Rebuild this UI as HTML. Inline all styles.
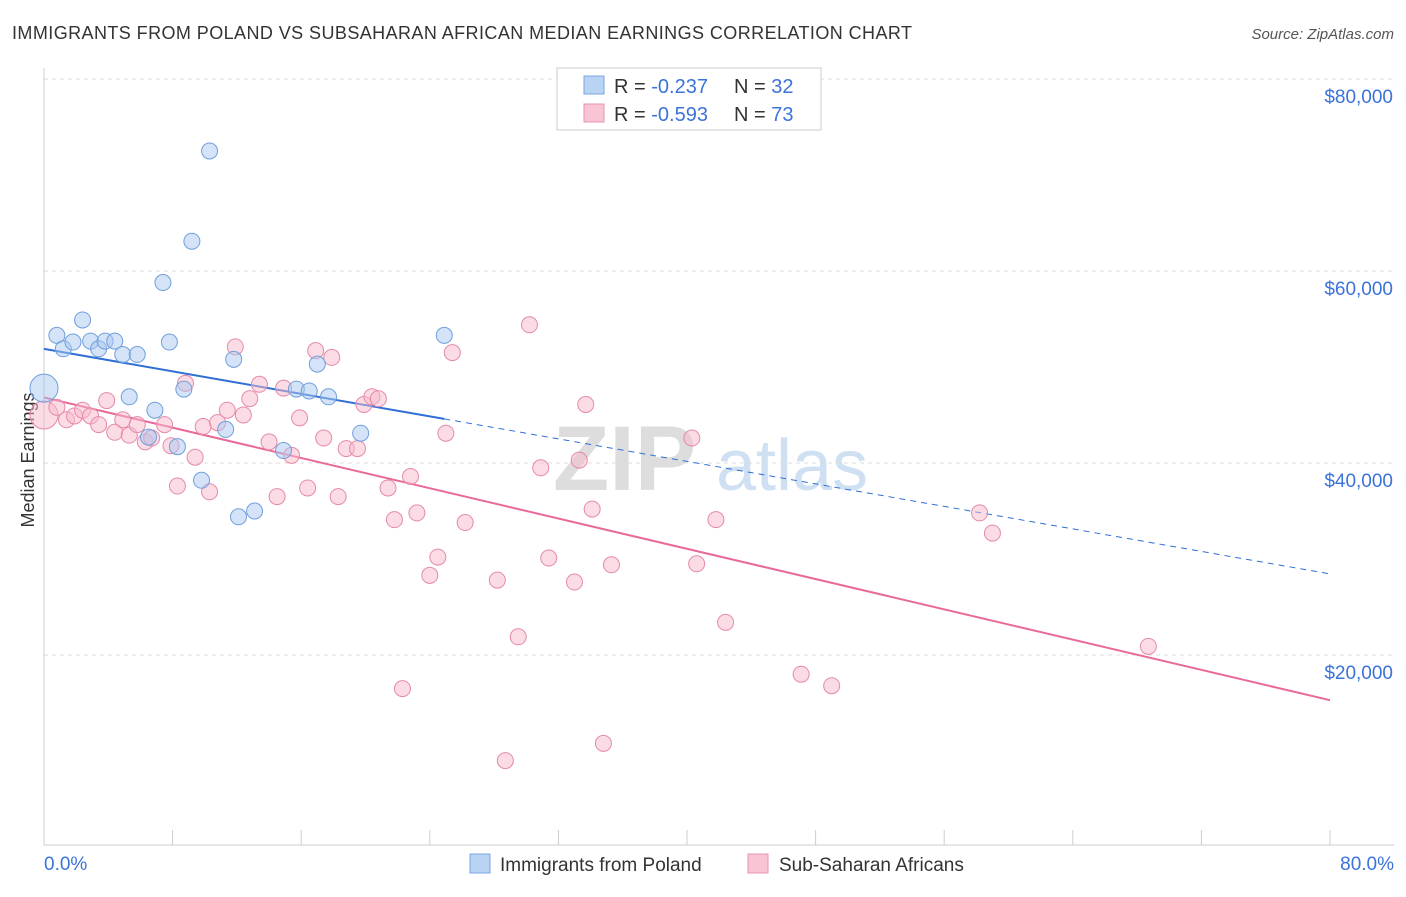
<!DOCTYPE html>
<html><head><meta charset="utf-8"><style>
body{margin:0;background:#fff;width:1406px;height:892px;overflow:hidden;font-family:"Liberation Sans",sans-serif}
svg text{font-family:"Liberation Sans",sans-serif}
</style></head><body>
<svg id="c" width="1406" height="892">
<text x="12" y="39" font-size="18" fill="#333" textLength="900">IMMIGRANTS FROM POLAND VS SUBSAHARAN AFRICAN MEDIAN EARNINGS CORRELATION CHART</text>
<text x="1394" y="39" font-size="15" fill="#555" text-anchor="end" font-style="italic">Source: ZipAtlas.com</text>
<text x="34" y="460" font-size="18" fill="#333" text-anchor="middle" transform="rotate(-90 34 460)">Median Earnings</text>
<g><text x="553" y="490" font-size="92" fill="#ddd" font-family="Liberation Serif" font-weight="bold">ZIP</text><text x="716" y="490" font-size="72" fill="#cfe0f3">atlas</text></g>
<g id="grid"></g><g id="lines"></g><g id="pts"></g>
<g>
<rect x="557" y="68" width="264" height="62" fill="#fff" stroke="#ccc"/>
<rect x="584" y="76" width="20" height="18" fill="#b9d3f3" stroke="#7aa6e0"/>
<rect x="584" y="104" width="20" height="18" fill="#f9c5d5" stroke="#e994b0"/>
<text x="614" y="93" font-size="20" fill="#333">R = <tspan fill="#3b73d9">-0.237</tspan></text>
<text x="734" y="93" font-size="20" fill="#333">N = <tspan fill="#3b73d9">32</tspan></text>
<text x="614" y="121" font-size="20" fill="#333">R = <tspan fill="#3b73d9">-0.593</tspan></text>
<text x="734" y="121" font-size="20" fill="#333">N = <tspan fill="#3b73d9">73</tspan></text>
</g>
<g>
<rect x="470" y="854" width="20" height="19" fill="#b9d3f3" stroke="#7aa6e0"/>
<text x="500" y="871" font-size="19" fill="#333">Immigrants from Poland</text>
<rect x="748" y="854" width="20" height="19" fill="#f9c5d5" stroke="#e994b0"/>
<text x="779" y="871" font-size="19" fill="#333">Sub-Saharan Africans</text>
</g>
</svg>
<script>
const yTicks=[20000,40000,60000,80000];
const yTickLabels=["$20,000","$40,000","$60,000","$80,000"];
const xTickLabels=["0.0%","80.0%"];
const polandX=[0,0.8,1.2,1.8,2.4,2.9,3.4,3.8,4.4,4.9,5.8,5.3,6.9,6.5,7.4,7.8,8.3,8.7,9.2,10.3,9.8,11.3,11.8,12.1,13.1,14.9,15.7,16.5,17.0,17.7,19.7,24.9];
const polandY=[47.8,53.3,51.9,52.6,54.9,52.7,51.9,52.7,52.7,51.3,51.3,46.9,45.5,42.7,58.8,52.6,41.7,47.7,63.1,72.5,38.2,43.5,50.8,34.4,35.0,41.3,47.7,47.5,50.3,46.9,43.1,53.3];
const africanX=[0,0.8,1.4,1.9,2.4,2.9,3.4,3.9,4.4,4.9,5.3,5.8,6.3,6.7,7.5,7.9,8.3,8.8,9.4,9.9,10.3,10.8,11.4,11.9,12.4,12.8,13.4,14.0,14.5,14.9,15.4,15.9,16.4,16.9,17.4,17.9,18.3,18.8,19.5,19.9,20.4,20.8,21.4,21.8,22.3,22.8,23.2,24.0,24.5,25.0,25.4,26.2,28.2,28.7,29.5,30.2,30.9,31.4,33.0,33.3,33.7,34.1,34.8,35.3,40.3,40.6,41.8,42.4,47.1,49.0,58.2,59.0,68.7];
const africanY=[45.0,45.8,44.5,44.9,45.5,44.9,44.0,46.5,43.2,44.5,42.9,44.0,42.2,42.6,44.0,41.8,37.6,48.3,40.6,43.8,37.0,44.2,45.5,52.1,45.0,46.7,48.2,42.2,36.5,47.8,40.8,44.7,37.4,51.7,42.6,51.0,36.5,41.5,41.5,46.1,46.9,46.7,37.4,34.1,16.5,38.6,34.8,28.3,30.2,43.1,51.5,33.8,27.8,9.0,21.9,54.4,39.5,30.1,27.6,40.3,46.1,35.2,10.8,29.4,42.6,29.5,34.1,23.4,18.0,16.8,34.8,32.7,20.9];
const X=v=>44+v/80*1286, Y=v=>847-v/20000*192;
const NS="http://www.w3.org/2000/svg";
function mk(p,t,a){const e=document.createElementNS(NS,t);for(const k in a)e.setAttribute(k,a[k]);p.appendChild(e);return e;}
const g=document.getElementById('grid'),L=document.getElementById('lines'),P=document.getElementById('pts');
yTicks.forEach((t,i)=>{
 const l=mk(g,'line',{x1:44,x2:1394,y1:Y(t),y2:Y(t),stroke:'#ddd','stroke-dasharray':'4 4'});
 
 
 const tx=mk(g,'text',{x:1393,y:Y(t)+24,'font-size':19,fill:'#3b73d9','text-anchor':'end'});tx.textContent=yTickLabels[i];
 
 
});
mk(g,'line',{x1:44,x2:44,y1:68,y2:845,stroke:'#ccc'});
mk(g,'line',{x1:44,x2:1394,y1:845,y2:845,stroke:'#ccc'});
for(let i=0;i<=10;i++){const t=mk(g,'line',{x1:X(i*8),x2:X(i*8),y1:830,y2:845,stroke:'#ccc'});
 
 }
[[0,44,'start'],[1,1394,'end']].forEach(([i,x,a])=>{const t=mk(g,'text',{x:x,y:870,'font-size':19,fill:'#3b73d9','text-anchor':a});t.textContent=xTickLabels[i];
 
 });
function fit(xs,ys){const n=xs.length;let mx=0,my=0;xs.forEach((x,i)=>{mx+=x;my+=ys[i];});mx/=n;my/=n;let sxy=0,sxx=0;xs.forEach((x,i)=>{sxy+=(x-mx)*(ys[i]-my);sxx+=(x-mx)**2;});const b=sxy/sxx;return [my-b*mx,b];}
function drawSeries(xs,ys,fill,stroke,name){
 xs.forEach((x,i)=>{const c=mk(P,'circle',{cx:X(x),cy:Y(ys[i]*1000),r:(i==0?14:8),fill:fill,'fill-opacity':0.5,stroke:stroke,'stroke-width':1});
  
  });
}
const [ba,bb]=fit(polandX,polandY),[pa,pb]=fit(africanX,africanY);
const mxB=Math.max(...polandX);
let l1=mk(L,'line',{x1:X(0),y1:Y(ba*1000),x2:X(mxB),y2:Y((ba+bb*mxB)*1000),stroke:'#2f6fd6','stroke-width':2});


let l2=mk(L,'line',{x1:X(mxB),y1:Y((ba+bb*mxB)*1000),x2:X(80),y2:Y((ba+bb*80)*1000),stroke:'#2f6fd6','stroke-width':1,'stroke-dasharray':'6 5'});


let l3=mk(L,'line',{x1:X(0),y1:Y(pa*1000),x2:X(80),y2:Y((pa+pb*80)*1000),stroke:'#e8699a','stroke-width':2});


drawSeries(africanX,africanY,'#f7b9cc','#e58aa8','african');
drawSeries(polandX,polandY,'#a9c8ef','#6f9fdc','poland');
</script>
</body></html>
